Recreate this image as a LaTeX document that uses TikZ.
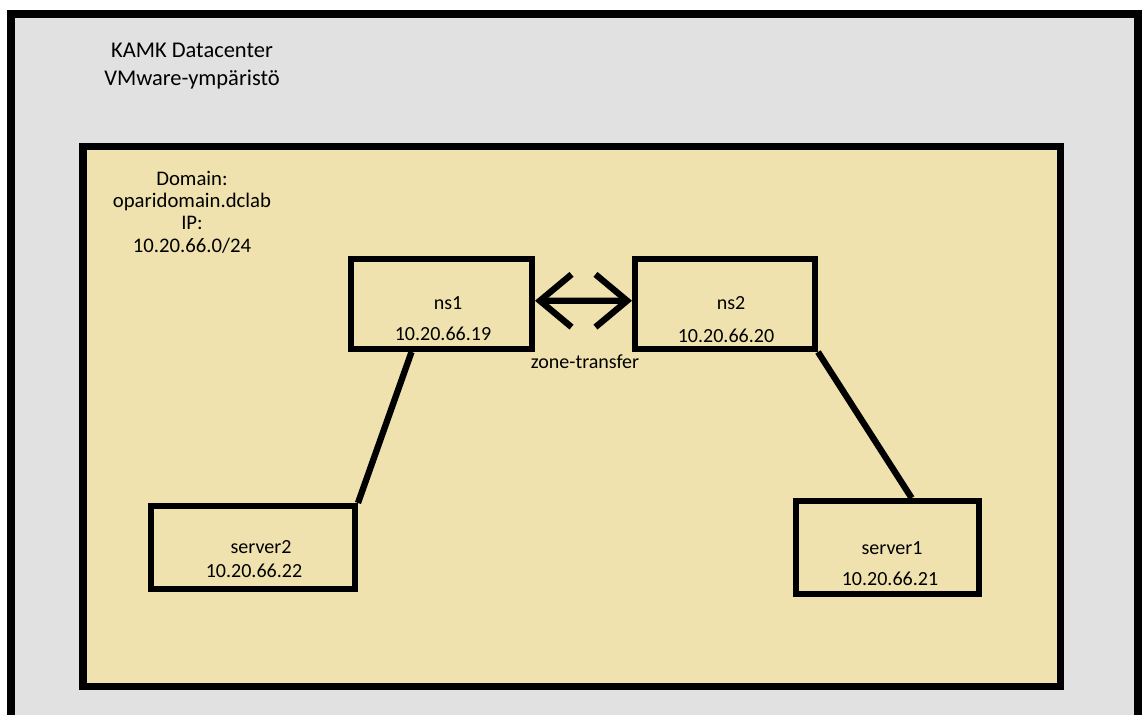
\documentclass[tikz,border=0pt]{standalone}
\usepackage{fontspec}
\setmainfont{Carlito}
\usetikzlibrary{arrows.meta}

\definecolor{vmgray}{RGB}{225,225,225}
\definecolor{labfill}{RGB}{239,226,174}

\tikzset{
  hostbox/.style={draw, line width=3.4pt, inner sep=0pt},
  hosttxt/.style={font=\fontsize{11.4}{13}\selectfont},
  link/.style={line width=3.6pt},
  xfer/.style={line width=3.6pt, {Straight Barb[length=18pt,width=30pt]}-{Straight Barb[length=18pt,width=30pt]}}
}

\begin{document}
\begin{tikzpicture}[x=0.02cm, y=-0.02cm]
    \useasboundingbox (0,0) rectangle (1142,715);
    \fill[white] (0,0) rectangle (1142,715);
    \clip (0,0) rectangle (1142,715);

    \draw[fill=vmgray, line width=4.55pt] (11,14) rectangle (1138,760);
    \draw[fill=labfill, line width=4pt] (83,146.5) rectangle (1060,686.5);

    \node[align=center, font=\fontsize{12.8}{16}\selectfont] (site) at (192,66) {KAMK Datacenter\\VMware-ympäristö};
    \node[align=center, font=\fontsize{11.8}{12.7}\selectfont] (domain) at (192,212) {Domain:\\oparidomain.dclab\\IP:\\10.20.66.0/24};

    \node[hostbox, minimum width=3.62cm, minimum height=1.8cm] (ns1) at (441.5,304) {};
    \node[hostbox, minimum width=3.6cm, minimum height=1.8cm] (ns2) at (725,304) {};
    \node[hostbox, minimum width=4.08cm, minimum height=1.66cm] (server2) at (253,547.5) {};
    \node[hostbox, minimum width=3.66cm, minimum height=1.86cm] (server1) at (887.5,547.5) {};

    \node[hosttxt] (ns1name) at (448,303) {ns1};
    \node[hosttxt] (ns1ip) at (443,334) {10.20.66.19};
    \node[hosttxt] (ns2name) at (731,303) {ns2};
    \node[hosttxt] (ns2ip) at (726,336) {10.20.66.20};
    \node[hosttxt] (server2name) at (261,547) {server2};
    \node[hosttxt] (server2ip) at (254,571) {10.20.66.22};
    \node[hosttxt] (server1name) at (892,548) {server1};
    \node[hosttxt] (server1ip) at (890,579) {10.20.66.21};
    \node[hosttxt] (zone) at (585,362) {zone-transfer};

    \draw[xfer] (ns1.2) -- (ns2.178);
    \draw[link] (ns1.238) -- (server2.north east);
    \draw[link] (ns2.south east) -- (server1.64);
\end{tikzpicture}
\end{document}
